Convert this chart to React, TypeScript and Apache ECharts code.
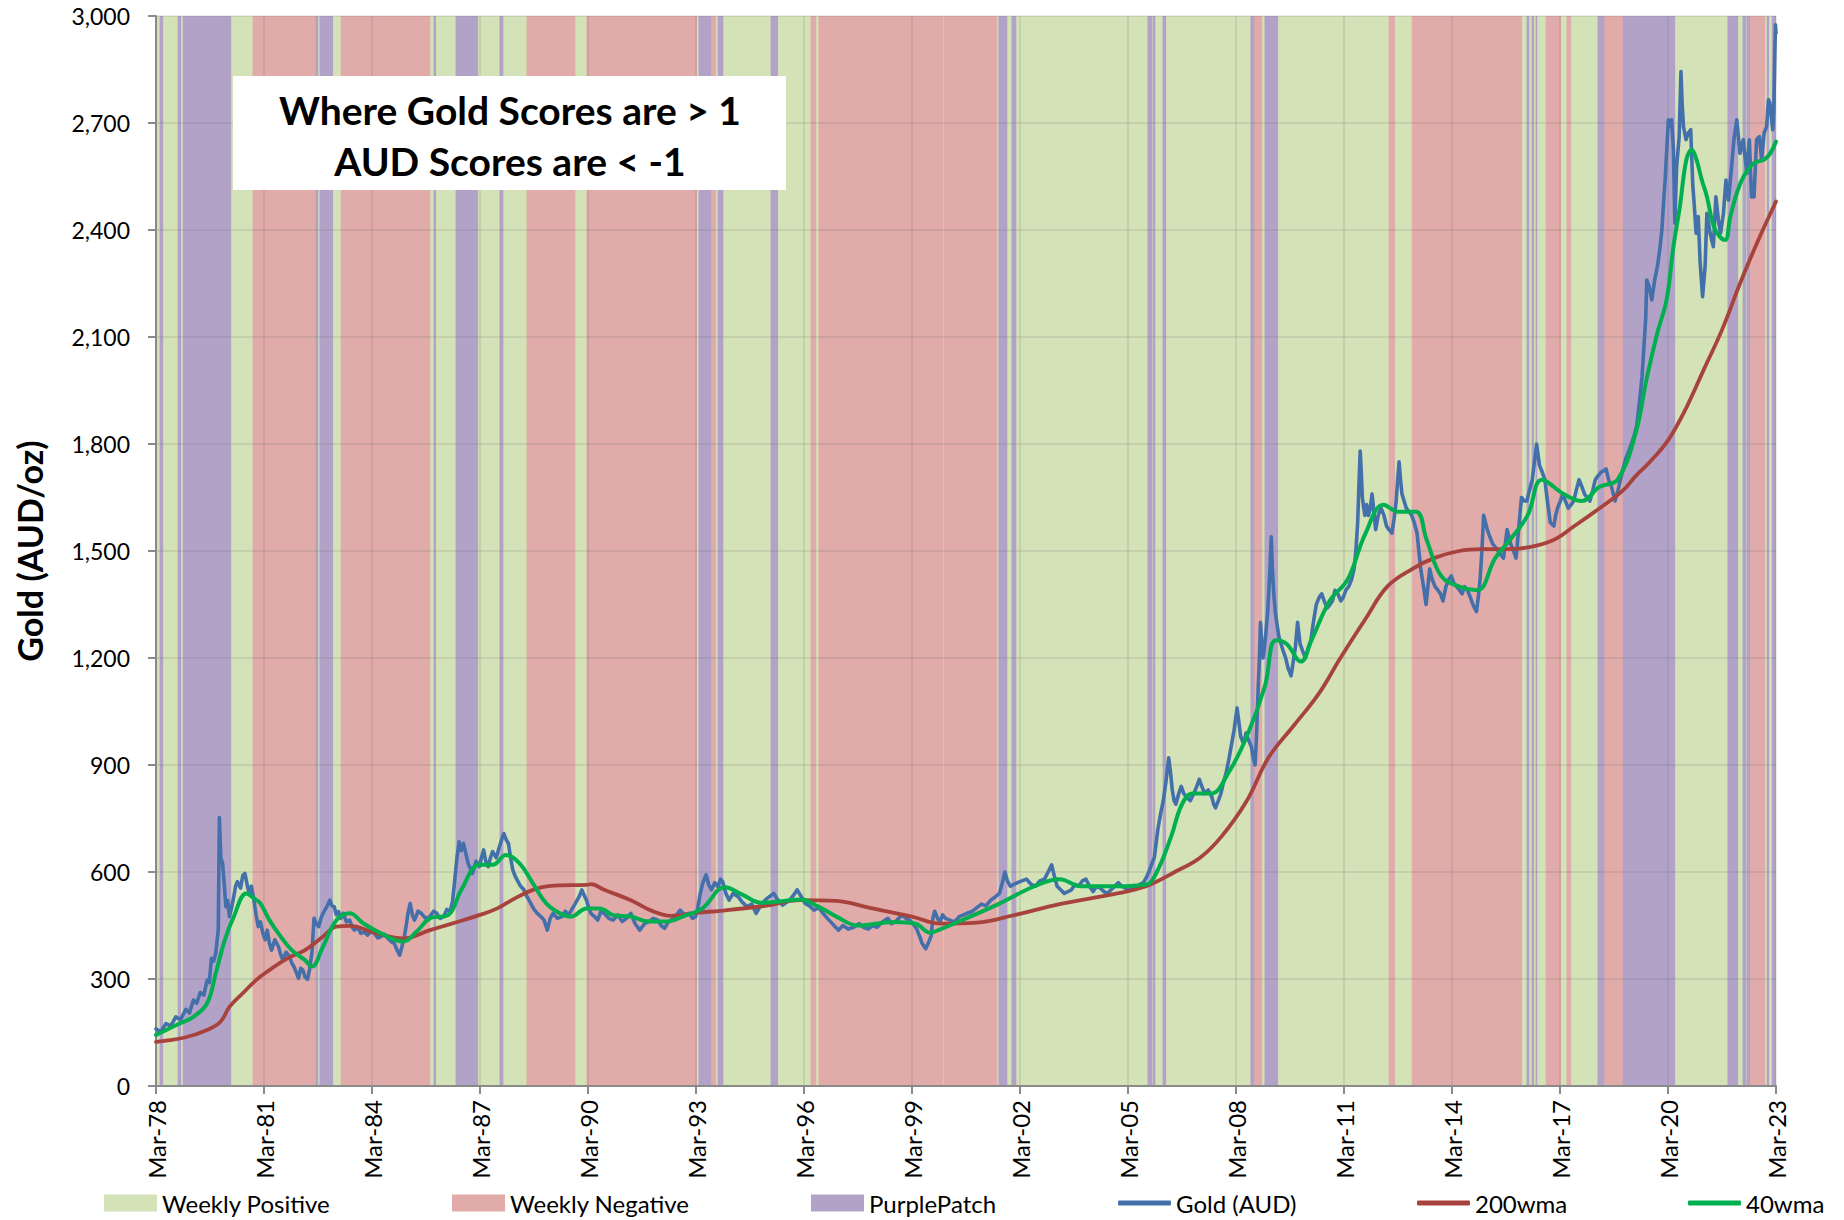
import React, { useEffect, useRef } from "react";
import * as echarts from "echarts";

// x positions are decimal calendar years; axis runs in "years since Mar-78"
const START_YEAR = 1978.17;
const X_SPAN = 45;

const xTickLabels = [
  "Mar-78", "Mar-81", "Mar-84", "Mar-87", "Mar-90", "Mar-93", "Mar-96", "Mar-99",
  "Mar-02", "Mar-05", "Mar-08", "Mar-11", "Mar-14", "Mar-17", "Mar-20", "Mar-23",
];

const positiveBands: [number, number][] = [
  [1978.17, 1978.28], [1978.36, 1978.78], [1978.86, 1978.92], [1980.25, 1980.86],
  [1982.67, 1982.72], [1983.08, 1983.31], [1985.78, 1985.89], [1985.94, 1986.5],
  [1987.11, 1987.72], [1987.81, 1988.47], [1989.81, 1990.14], [1993.19, 1993.25],
  [1993.72, 1993.78], [1993.92, 1995.25], [1995.44, 1996.36], [1996.5, 1996.58],
  [2000.03, 2000.06], [2001.53, 2001.58], [2001.81, 2001.94], [2002.06, 2005.72],
  [2005.83, 2005.86], [2005.92, 2006.14], [2006.22, 2008.58], [2008.89, 2008.97],
  [2009.33, 2012.42], [2012.58, 2013.06], [2016.11, 2016.25], [2016.31, 2016.39],
  [2016.44, 2016.5], [2016.53, 2016.78], [2017.19, 2017.36], [2017.47, 2018.22],
  [2020.36, 2021.83], [2022.11, 2022.25], [2022.33, 2022.36], [2022.86, 2022.92],
  [2022.97, 2023.06],
];

const negativeBands: [number, number][] = [
  [1980.86, 1982.61], [1983.31, 1985.78], [1988.47, 1989.81], [1990.14, 1993.19],
  [1993.58, 1993.72], [1996.36, 1996.5], [1996.58, 2000.03], [2000.06, 2001.53],
  [2008.67, 2008.89], [2012.42, 2012.58], [2013.06, 2016.11], [2016.78, 2017.19],
  [2017.36, 2017.47], [2018.39, 2018.92], [2022.44, 2022.86],
];

const purpleBands: [number, number][] = [
  [1978.28, 1978.36], [1978.78, 1978.86], [1978.92, 1980.25], [1982.61, 1982.67],
  [1982.72, 1983.08], [1985.89, 1985.94], [1986.5, 1987.11], [1987.72, 1987.81],
  [1993.25, 1993.58], [1993.78, 1993.92], [1995.25, 1995.44], [2001.58, 2001.81],
  [2001.94, 2002.06], [2005.72, 2005.83], [2005.86, 2005.92], [2006.14, 2006.22],
  [2008.58, 2008.67], [2008.97, 2009.33], [2016.25, 2016.31], [2016.39, 2016.44],
  [2016.5, 2016.53], [2018.22, 2018.39], [2018.92, 2020.36], [2021.83, 2022.11],
  [2022.25, 2022.33], [2022.36, 2022.44], [2022.92, 2022.97], [2023.06, 2023.17],
];

const goldAud: [number, number][] = [
  [1978.17, 160], [1978.3, 152], [1978.45, 175], [1978.58, 168], [1978.72, 194], [1978.85, 186],
  [1979.0, 215], [1979.1, 205], [1979.21, 241], [1979.3, 232], [1979.4, 262], [1979.5, 255],
  [1979.59, 297], [1979.65, 290], [1979.71, 358], [1979.77, 350], [1979.83, 372], [1979.9, 440],
  [1979.93, 753], [1979.97, 640], [1980.02, 624], [1980.07, 560], [1980.11, 503], [1980.16, 520],
  [1980.21, 475], [1980.27, 500], [1980.33, 531], [1980.38, 560], [1980.43, 573], [1980.52, 555],
  [1980.58, 590], [1980.64, 596], [1980.7, 565], [1980.76, 540], [1980.82, 560], [1980.89, 521],
  [1980.95, 480], [1981.01, 447], [1981.07, 460], [1981.14, 428], [1981.2, 410], [1981.26, 437],
  [1981.32, 400], [1981.38, 381], [1981.47, 410], [1981.57, 391], [1981.63, 370], [1981.69, 353],
  [1981.78, 375], [1981.88, 363], [1981.94, 345], [1982.0, 335], [1982.06, 320], [1982.13, 302],
  [1982.19, 330], [1982.25, 325], [1982.31, 305], [1982.38, 299], [1982.44, 330], [1982.5, 372],
  [1982.56, 470], [1982.62, 455], [1982.69, 447], [1982.75, 470], [1982.81, 484], [1982.9, 500],
  [1983.0, 521], [1983.06, 505], [1983.12, 503], [1983.18, 480], [1983.24, 489], [1983.3, 470],
  [1983.37, 484], [1983.46, 460], [1983.55, 465], [1983.62, 445], [1983.68, 437], [1983.77, 445],
  [1983.86, 428], [1983.95, 432], [1984.05, 423], [1984.15, 435], [1984.24, 428], [1984.33, 415],
  [1984.42, 419], [1984.52, 425], [1984.61, 414], [1984.7, 405], [1984.79, 400], [1984.87, 380],
  [1984.94, 367], [1985.0, 390], [1985.07, 419], [1985.12, 450], [1985.17, 484], [1985.23, 512],
  [1985.29, 480], [1985.35, 465], [1985.45, 490], [1985.54, 484], [1985.66, 470], [1985.78, 475],
  [1985.88, 490], [1985.97, 484], [1986.06, 470], [1986.16, 475], [1986.25, 495], [1986.34, 489],
  [1986.41, 520], [1986.47, 578], [1986.53, 640], [1986.59, 685], [1986.65, 660], [1986.71, 680],
  [1986.78, 650], [1986.84, 624], [1986.9, 610], [1986.96, 596], [1987.06, 630], [1987.15, 615],
  [1987.21, 640], [1987.27, 662], [1987.33, 630], [1987.4, 615], [1987.46, 640], [1987.52, 657],
  [1987.62, 640], [1987.71, 671], [1987.77, 690], [1987.83, 708], [1987.9, 690], [1987.96, 680],
  [1988.02, 640], [1988.08, 606], [1988.14, 590], [1988.2, 578], [1988.3, 560], [1988.39, 550],
  [1988.48, 530], [1988.58, 512], [1988.67, 495], [1988.76, 484], [1988.86, 475], [1988.95, 465],
  [1989.04, 437], [1989.12, 470], [1989.2, 484], [1989.32, 470], [1989.45, 475], [1989.54, 490],
  [1989.63, 479], [1989.72, 495], [1989.82, 512], [1989.92, 530], [1990.0, 550], [1990.06, 535],
  [1990.13, 521], [1990.19, 500], [1990.25, 484], [1990.35, 475], [1990.44, 465], [1990.53, 490],
  [1990.62, 484], [1990.75, 470], [1990.87, 465], [1991.0, 480], [1991.12, 461], [1991.24, 470],
  [1991.36, 484], [1991.48, 455], [1991.61, 437], [1991.74, 455], [1991.86, 461], [1991.98, 470],
  [1992.11, 465], [1992.2, 450], [1992.3, 442], [1992.4, 460], [1992.48, 465], [1992.6, 475],
  [1992.73, 493], [1992.85, 480], [1992.98, 484], [1993.07, 470], [1993.16, 475], [1993.22, 500],
  [1993.29, 540], [1993.36, 570], [1993.45, 592], [1993.52, 565], [1993.6, 550], [1993.69, 570],
  [1993.78, 559], [1993.85, 580], [1993.91, 573], [1994.0, 540], [1994.09, 521], [1994.2, 540],
  [1994.34, 531], [1994.46, 515], [1994.59, 503], [1994.72, 510], [1994.84, 484], [1994.96, 505],
  [1995.09, 521], [1995.2, 530], [1995.33, 540], [1995.45, 520], [1995.58, 507], [1995.68, 515],
  [1995.77, 521], [1995.88, 535], [1995.98, 550], [1996.1, 530], [1996.2, 512], [1996.32, 505],
  [1996.45, 493], [1996.58, 500], [1996.7, 484], [1996.82, 470], [1996.95, 456], [1997.05, 445],
  [1997.13, 437], [1997.25, 450], [1997.4, 440], [1997.55, 445], [1997.7, 455], [1997.82, 445],
  [1997.95, 440], [1998.08, 450], [1998.2, 445], [1998.35, 460], [1998.5, 470], [1998.6, 455],
  [1998.7, 460], [1998.8, 470], [1998.9, 480], [1999.0, 470], [1999.1, 465], [1999.2, 455],
  [1999.3, 440], [1999.38, 420], [1999.45, 400], [1999.55, 385], [1999.62, 400], [1999.7, 420],
  [1999.75, 470], [1999.8, 490], [1999.88, 470], [1999.95, 460], [2000.02, 480], [2000.1, 470],
  [2000.22, 465], [2000.35, 460], [2000.48, 475], [2000.6, 480], [2000.72, 485], [2000.85, 490],
  [2000.97, 500], [2001.1, 510], [2001.22, 505], [2001.35, 520], [2001.48, 530], [2001.6, 540],
  [2001.68, 570], [2001.75, 600], [2001.82, 575], [2001.9, 560], [2002.0, 565], [2002.1, 570],
  [2002.22, 575], [2002.35, 580], [2002.48, 565], [2002.6, 560], [2002.72, 575], [2002.85, 580],
  [2002.95, 600], [2003.05, 620], [2003.12, 590], [2003.2, 560], [2003.3, 550], [2003.4, 540],
  [2003.5, 545], [2003.6, 550], [2003.7, 565], [2003.8, 560], [2003.9, 575], [2004.0, 580],
  [2004.1, 560], [2004.2, 545], [2004.3, 560], [2004.4, 555], [2004.5, 545], [2004.6, 540],
  [2004.7, 550], [2004.8, 560], [2004.9, 570], [2005.0, 560], [2005.1, 555], [2005.2, 550],
  [2005.3, 555], [2005.4, 560], [2005.5, 565], [2005.6, 570], [2005.68, 585], [2005.75, 600],
  [2005.82, 620], [2005.9, 640], [2005.95, 680], [2006.0, 720], [2006.07, 760], [2006.15, 800],
  [2006.22, 850], [2006.3, 920], [2006.35, 880], [2006.4, 830], [2006.45, 800], [2006.5, 790],
  [2006.58, 820], [2006.65, 840], [2006.72, 820], [2006.8, 810], [2006.9, 800], [2007.0, 820],
  [2007.08, 840], [2007.15, 860], [2007.22, 840], [2007.3, 820], [2007.4, 830], [2007.5, 810],
  [2007.55, 790], [2007.6, 780], [2007.68, 800], [2007.75, 820], [2007.82, 850], [2007.9, 880],
  [2007.98, 920], [2008.05, 960], [2008.12, 1000], [2008.2, 1060], [2008.25, 1020], [2008.3, 980],
  [2008.38, 960], [2008.45, 990], [2008.52, 970], [2008.6, 950], [2008.65, 920], [2008.7, 900],
  [2008.74, 980], [2008.78, 1100], [2008.82, 1200], [2008.85, 1300], [2008.88, 1250], [2008.92, 1200],
  [2008.96, 1230], [2009.0, 1270], [2009.05, 1330], [2009.1, 1420], [2009.15, 1540], [2009.18, 1450],
  [2009.22, 1380], [2009.26, 1330], [2009.3, 1300], [2009.36, 1260], [2009.42, 1240], [2009.48, 1220],
  [2009.55, 1200], [2009.62, 1170], [2009.7, 1150], [2009.76, 1190], [2009.82, 1230], [2009.88, 1300],
  [2009.95, 1240], [2010.02, 1220], [2010.1, 1200], [2010.18, 1230], [2010.25, 1250], [2010.32, 1300],
  [2010.4, 1350], [2010.48, 1370], [2010.55, 1380], [2010.62, 1360], [2010.7, 1340], [2010.78, 1350],
  [2010.85, 1360], [2010.92, 1390], [2011.0, 1380], [2011.08, 1360], [2011.15, 1370], [2011.22, 1390],
  [2011.3, 1400], [2011.38, 1420], [2011.45, 1450], [2011.5, 1500], [2011.55, 1580], [2011.59, 1700],
  [2011.62, 1780], [2011.65, 1720], [2011.68, 1650], [2011.72, 1620], [2011.75, 1600], [2011.8, 1630],
  [2011.85, 1600], [2011.9, 1620], [2011.95, 1660], [2012.0, 1610], [2012.05, 1560], [2012.12, 1600],
  [2012.2, 1620], [2012.28, 1600], [2012.35, 1570], [2012.42, 1560], [2012.5, 1550], [2012.56, 1590],
  [2012.62, 1640], [2012.66, 1700], [2012.7, 1750], [2012.74, 1700], [2012.78, 1660], [2012.84, 1640],
  [2012.9, 1620], [2012.98, 1610], [2013.05, 1600], [2013.12, 1580], [2013.2, 1550], [2013.25, 1500],
  [2013.3, 1450], [2013.38, 1400], [2013.45, 1350], [2013.5, 1400], [2013.55, 1450], [2013.62, 1420],
  [2013.7, 1400], [2013.78, 1390], [2013.85, 1380], [2013.92, 1360], [2014.0, 1400], [2014.08, 1420],
  [2014.15, 1430], [2014.22, 1410], [2014.3, 1400], [2014.38, 1390], [2014.45, 1380], [2014.52, 1400],
  [2014.6, 1390], [2014.68, 1370], [2014.75, 1350], [2014.8, 1340], [2014.85, 1330], [2014.9, 1370],
  [2014.95, 1420], [2015.0, 1500], [2015.05, 1600], [2015.1, 1580], [2015.15, 1560], [2015.22, 1540],
  [2015.3, 1520], [2015.38, 1510], [2015.45, 1500], [2015.52, 1490], [2015.6, 1480], [2015.65, 1520],
  [2015.7, 1560], [2015.75, 1540], [2015.8, 1520], [2015.88, 1500], [2015.95, 1480], [2016.02, 1560],
  [2016.1, 1650], [2016.18, 1640], [2016.25, 1640], [2016.32, 1670], [2016.4, 1700], [2016.46, 1750],
  [2016.52, 1800], [2016.56, 1770], [2016.6, 1740], [2016.68, 1720], [2016.75, 1700], [2016.82, 1640],
  [2016.9, 1580], [2016.95, 1575], [2017.0, 1570], [2017.05, 1600], [2017.1, 1620], [2017.18, 1640],
  [2017.25, 1660], [2017.32, 1640], [2017.4, 1620], [2017.48, 1630], [2017.55, 1640], [2017.62, 1670],
  [2017.7, 1700], [2017.78, 1680], [2017.85, 1660], [2017.92, 1650], [2018.0, 1640], [2018.08, 1670],
  [2018.15, 1700], [2018.22, 1710], [2018.3, 1720], [2018.38, 1725], [2018.45, 1730], [2018.52, 1700],
  [2018.6, 1680], [2018.65, 1660], [2018.7, 1640], [2018.78, 1670], [2018.85, 1700], [2018.92, 1730],
  [2019.0, 1760], [2019.08, 1780], [2019.15, 1800], [2019.22, 1820], [2019.3, 1850], [2019.38, 1920],
  [2019.45, 1990], [2019.5, 2070], [2019.55, 2150], [2019.58, 2260], [2019.65, 2240], [2019.72, 2204],
  [2019.8, 2260], [2019.88, 2300], [2019.95, 2353], [2020.0, 2400], [2020.04, 2466], [2020.09, 2540],
  [2020.13, 2615], [2020.18, 2709], [2020.22, 2690], [2020.27, 2709], [2020.32, 2625], [2020.36, 2420],
  [2020.41, 2578], [2020.48, 2662], [2020.53, 2844], [2020.56, 2760], [2020.6, 2690], [2020.67, 2653],
  [2020.73, 2672], [2020.8, 2681], [2020.86, 2522], [2020.89, 2484], [2020.95, 2391], [2021.01, 2438],
  [2021.06, 2314], [2021.13, 2213], [2021.2, 2297], [2021.25, 2447], [2021.34, 2391], [2021.43, 2353],
  [2021.5, 2493], [2021.57, 2428], [2021.63, 2391], [2021.71, 2447], [2021.78, 2540], [2021.85, 2484],
  [2021.92, 2559], [2022.0, 2653], [2022.08, 2709], [2022.17, 2615], [2022.26, 2653], [2022.36, 2559],
  [2022.43, 2653], [2022.49, 2493], [2022.56, 2493], [2022.63, 2653], [2022.71, 2662], [2022.77, 2597],
  [2022.84, 2672], [2022.91, 2690], [2022.96, 2765], [2023.0, 2756], [2023.08, 2681], [2023.11, 2737],
  [2023.14, 2905], [2023.155, 2975], [2023.17, 2952],
];

const wma200: [number, number][] = [
  [1978.17, 124], [1978.97, 136], [1979.59, 157], [1979.96, 180], [1980.21, 222], [1980.58, 260],
  [1980.95, 297], [1981.32, 325], [1981.82, 358], [1982.31, 381], [1982.81, 419], [1983.18, 447],
  [1983.55, 449], [1984.3, 428], [1985.04, 414], [1985.78, 437], [1986.41, 456], [1987.15, 479],
  [1987.65, 498], [1988.14, 526], [1988.64, 550], [1989.13, 561], [1990.13, 564], [1990.25, 566],
  [1990.62, 550], [1991.36, 521], [1991.99, 489], [1992.48, 477], [1993.23, 486], [1993.85, 491],
  [1995.09, 505], [1996.08, 521], [1997.07, 519], [1997.97, 500], [1999.17, 475], [1999.97, 455],
  [2000.97, 458], [2001.97, 478], [2003.27, 510], [2004.87, 540], [2005.67, 560], [2006.47, 600],
  [2007.17, 640], [2007.77, 700], [2008.47, 800], [2009.07, 920], [2009.77, 1010], [2010.47, 1100],
  [2011.07, 1200], [2011.77, 1310], [2012.37, 1400], [2013.07, 1450], [2013.67, 1480], [2014.37, 1500],
  [2014.97, 1505], [2015.67, 1505], [2016.27, 1510], [2016.97, 1530], [2017.57, 1570], [2018.27, 1620],
  [2018.92, 1670], [2019.27, 1710], [2019.67, 1750], [2020.17, 1810], [2020.67, 1900], [2021.17, 2010],
  [2021.67, 2120], [2022.17, 2250], [2022.67, 2370], [2023.17, 2480],
];

const wma40: [number, number][] = [
  [1978.17, 143], [1978.84, 176], [1979.21, 194], [1979.59, 232], [1979.83, 316], [1980.08, 409],
  [1980.33, 475], [1980.68, 540], [1980.89, 526], [1981.07, 512], [1981.32, 465], [1981.57, 428],
  [1981.94, 381], [1982.31, 353], [1982.5, 335], [1982.81, 391], [1983.18, 465], [1983.55, 484],
  [1983.93, 456], [1984.42, 428], [1985.04, 405], [1985.41, 433], [1985.78, 470], [1986.28, 479],
  [1986.65, 550], [1987.15, 620], [1987.52, 620], [1987.89, 648], [1988.27, 624], [1988.64, 568],
  [1989.01, 512], [1989.39, 484], [1989.7, 475], [1990.13, 498], [1990.5, 498], [1990.87, 479],
  [1991.36, 475], [1991.86, 461], [1992.36, 461], [1992.85, 477], [1993.35, 498], [1993.97, 557],
  [1994.47, 536], [1994.96, 514], [1995.46, 517], [1996.08, 523], [1996.57, 503], [1997.07, 475],
  [1997.67, 450], [1998.67, 460], [1999.27, 455], [1999.67, 430], [1999.97, 440], [2000.67, 470],
  [2001.57, 510], [2002.57, 560], [2003.27, 580], [2003.87, 560], [2004.87, 560], [2005.67, 565],
  [2005.97, 600], [2006.37, 700], [2006.67, 790], [2006.97, 820], [2007.47, 820], [2007.97, 880],
  [2008.47, 980], [2008.97, 1120], [2009.27, 1250], [2009.57, 1240], [2009.97, 1190], [2010.27, 1250],
  [2010.77, 1360], [2011.27, 1420], [2011.77, 1550], [2012.27, 1630], [2012.67, 1610], [2013.17, 1610],
  [2013.47, 1530], [2013.87, 1430], [2014.37, 1400], [2014.87, 1390], [2015.37, 1480], [2015.77, 1530],
  [2016.27, 1600], [2016.67, 1700], [2017.27, 1660], [2017.77, 1640], [2018.27, 1680], [2018.77, 1700],
  [2019.27, 1830], [2019.57, 1980], [2019.87, 2110], [2020.13, 2204], [2020.32, 2353], [2020.5, 2466],
  [2020.68, 2597], [2020.83, 2625], [2020.96, 2597], [2021.11, 2540], [2021.25, 2494], [2021.44, 2410],
  [2021.62, 2380], [2021.76, 2372], [2021.9, 2437], [2022.08, 2503], [2022.27, 2550], [2022.55, 2587],
  [2022.83, 2597], [2023.01, 2615], [2023.17, 2648],
];

const Y_MIN = 0;
const Y_MAX = 3000;
const Y_STEP = 300;

const titleLines = ["Where Gold Scores are > 1", "AUD Scores are < -1"];

const COLORS = {
  positive: "#D4E2B8",
  negative: "#E1ABAA",
  purple: "#B2A2C7",
  gold: "#4370AA",
  w200: "#A8423D",
  w40: "#00B050",
};

const FONT = "Lato";

const toX = (yr: number) => yr - START_YEAR;

function bandSeries(name: string, bands: [number, number][], color: string) {
  return {
    type: "custom",
    name,
    z: 1,
    silent: true,
    clip: true,
    itemStyle: { color },
    encode: { x: [0, 1], y: [2, 3] },
    data: bands.map(([a, b]) => [toX(a), toX(b), Y_MIN, Y_MAX]),
    renderItem: (_params: any, api: any) => {
      const p0 = api.coord([api.value(0), api.value(3)]);
      const p1 = api.coord([api.value(1), api.value(2)]);
      return {
        type: "rect",
        shape: { x: p0[0] - 0.3, y: p0[1], width: p1[0] - p0[0] + 0.6, height: p1[1] - p0[1] },
        style: { fill: color },
      };
    },
  };
}

function lineSeries(name: string, data: [number, number][], color: string, width: number, smooth: number | boolean, z: number) {
  return {
    type: "line",
    name,
    z,
    data: data.map(([yr, v]) => [toX(yr), v]),
    showSymbol: false,
    symbol: "none",
    smooth,
    itemStyle: { color },
    lineStyle: { color, width, join: "round", cap: "round" },
  };
}

export default function App() {
  const ref = useRef<HTMLDivElement>(null);

  useEffect(() => {
    if (!ref.current) return;
    const chart = echarts.init(ref.current, undefined, { renderer: "svg" });

    const legendItems = [
      { name: "Weekly Positive", left: 104, h: 17, icon: "rect" },
      { name: "Weekly Negative", left: 452, h: 17, icon: "rect" },
      { name: "PurplePatch", left: 811, h: 17, icon: "rect" },
      { name: "Gold (AUD)", left: 1118, h: 5, icon: "roundRect" },
      { name: "200wma", left: 1417, h: 5, icon: "roundRect" },
      { name: "40wma", left: 1688, h: 5, icon: "roundRect" },
    ];

    const gridStyle = { color: "rgba(90,90,90,0.13)", width: 2 };
    const axisLineStyle = { color: "#8A8A8A", width: 2 };

    chart.setOption({
      animation: false,
      backgroundColor: "#ffffff",
      textStyle: { fontFamily: FONT },
      grid: { left: 156, right: 68, top: 16, bottom: 134, containLabel: false },
      legend: legendItems.map((l) => ({
        data: [{ name: l.name, icon: l.icon }],
        left: l.left,
        top: 1191,
        padding: 0,
        itemWidth: 53,
        itemHeight: l.h,
        selectedMode: false,
        textStyle: { fontFamily: FONT, fontSize: 24, color: "#000" },
      })),
      xAxis: {
        type: "value",
        min: 0,
        max: X_SPAN,
        interval: 3,
        z: 2,
        axisLine: { show: true, lineStyle: axisLineStyle },
        axisTick: { show: true, length: 8, lineStyle: axisLineStyle },
        splitLine: { show: true, lineStyle: gridStyle },
        axisLabel: {
          rotate: 90,
          margin: 14,
          fontFamily: FONT,
          fontSize: 24,
          color: "#000",
          formatter: (v: number) => xTickLabels[Math.round(v / 3)] ?? "",
        },
      },
      yAxis: {
        type: "value",
        min: Y_MIN,
        max: Y_MAX,
        interval: Y_STEP,
        z: 2,
        name: "Gold (AUD/oz)",
        nameLocation: "middle",
        nameGap: 110,
        nameTextStyle: { fontFamily: FONT, fontSize: 34, fontWeight: "bold", color: "#000" },
        axisLine: { show: true, lineStyle: axisLineStyle },
        axisTick: { show: true, length: 8, lineStyle: axisLineStyle },
        splitLine: { show: true, lineStyle: gridStyle },
        axisLabel: {
          margin: 26,
          fontFamily: FONT,
          fontSize: 23,
          color: "#000",
          formatter: (v: number) => String(v).replace(/\B(?=(\d{3})+(?!\d))/g, ","),
        },
      },
      series: [
        bandSeries("Weekly Positive", positiveBands, COLORS.positive),
        bandSeries("Weekly Negative", negativeBands, COLORS.negative),
        bandSeries("PurplePatch", purpleBands, COLORS.purple),
        lineSeries("Gold (AUD)", goldAud, COLORS.gold, 3.6, false, 3),
        lineSeries("200wma", wma200, COLORS.w200, 3.8, 0.4, 4),
        lineSeries("40wma", wma40, COLORS.w40, 4, 0.4, 5),
      ],
      graphic: [
        {
          type: "rect",
          z: 100,
          shape: { x: 233, y: 76, width: 553, height: 114 },
          style: { fill: "#ffffff" },
        },
        {
          type: "text",
          z: 101,
          x: 510,
          y: 110,
          style: {
            text: titleLines[0],
            font: `bold 39px ${FONT}`,
            fill: "#000",
            textAlign: "center",
            textVerticalAlign: "middle",
          },
        },
        {
          type: "text",
          z: 101,
          x: 510,
          y: 161,
          style: {
            text: titleLines[1],
            font: `bold 39px ${FONT}`,
            fill: "#000",
            textAlign: "center",
            textVerticalAlign: "middle",
          },
        },
      ],
    });

    return () => chart.dispose();
  }, []);

  return (
    <div
      ref={ref}
      style={{ position: "fixed", left: 0, top: 0, width: 1844, height: 1220, background: "#fff" }}
    />
  );
}
